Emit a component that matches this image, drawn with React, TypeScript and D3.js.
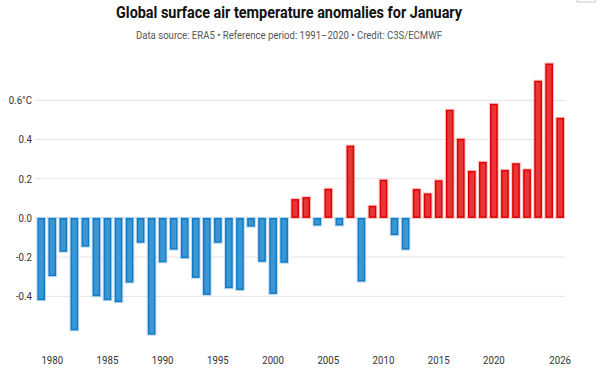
import React from "react";
import * as d3 from "d3";

const years: number[] = [
  1979, 1980, 1981, 1982, 1983, 1984, 1985, 1986, 1987, 1988, 1989, 1990,
  1991, 1992, 1993, 1994, 1995, 1996, 1997, 1998, 1999, 2000, 2001, 2002,
  2003, 2004, 2005, 2006, 2007, 2008, 2009, 2010, 2011, 2012, 2013, 2014,
  2015, 2016, 2017, 2018, 2019, 2020, 2021, 2022, 2023, 2024, 2025, 2026,
];
const anomalies: number[] = [
  -0.42, -0.297, -0.173, -0.574, -0.147, -0.40, -0.42, -0.43, -0.33, -0.127, -0.596, -0.227,
  -0.162, -0.206, -0.306, -0.393, -0.127, -0.359, -0.368, -0.045, -0.224, -0.388, -0.229, 0.096,
  0.106, -0.039, 0.149, -0.039, 0.369, -0.325, 0.062, 0.195, -0.088, -0.162, 0.147, 0.125,
  0.192, 0.552, 0.404, 0.24, 0.286, 0.582, 0.245, 0.279, 0.248, 0.70, 0.788, 0.511,
];
const yTicks: number[] = [-0.4, -0.2, 0.0, 0.2, 0.4, 0.6];
const xTickYears: number[] = [1980, 1985, 1990, 1995, 2000, 2005, 2010, 2015, 2020, 2026];

const title = "Global surface air temperature anomalies for January";
const subtitle = "Data source: ERA5 • Reference period: 1991–2020 • Credit: C3S/ECMWF";

export default function App() {
  const W = 600;
  const H = 376;
  const plotLeft = 35;
  const plotRight = 565;

  const x = d3
    .scaleBand<number>()
    .domain(years)
    .range([35.7, 565.7])
    .paddingInner(0.3)
    .paddingOuter(0.15);

  const y = d3.scaleLinear().domain([-0.6, 0.8]).range([335.5, 61.1]);

  const font = "Roboto, 'Liberation Sans', sans-serif";

  return (
    <svg
      width={W}
      height={H}
      style={{ position: "absolute", left: 0, top: 0, background: "#fff" }}
    >
      <rect x={0} y={0} width={W} height={H} fill="#fff" />
      <rect x={577} y={-3} width={18} height={5} fill="#fff" stroke="#c8c8c8" strokeWidth={1} />
      <text
        x={289}
        y={18}
        textAnchor="middle"
        fontFamily={font}
        fontWeight={700}
        fontSize={16}
        fill="#111"
        textLength={346}
        lengthAdjust="spacingAndGlyphs"
      >
        {title}
      </text>
      <text
        x={289}
        y={38.5}
        textAnchor="middle"
        fontFamily={font}
        fontSize={11}
        fill="#555"
        textLength={306}
        lengthAdjust="spacingAndGlyphs"
      >
        {subtitle}
      </text>

      {yTicks.map((t) => (
        <g key={t}>
          <line
            x1={plotLeft}
            x2={plotRight}
            y1={y(t)}
            y2={y(t)}
            stroke="#e3e3e3"
            strokeWidth={1}
          />
          <text
            x={32}
            y={y(t) + 4}
            textAnchor="end"
            fontFamily={font}
            fontSize={11}
            fill="#333"
            transform={`translate(32,0) scale(0.88,1) translate(-32,0)`}
          >
            {t === 0.6 ? "0.6°C" : t.toFixed(1)}
          </text>
        </g>
      ))}

      {years.map((yr, i) => {
        const v = anomalies[i];
        const pos = v >= 0;
        const y0 = y(0);
        const y1 = y(v);
        const top = Math.min(y0, y1);
        const h = Math.abs(y1 - y0);
        const bw = x.bandwidth();
        return (
          <g key={yr}>
            <rect
              x={(x(yr) as number) - 0.5}
              y={top - 0.5}
              width={bw + 1}
              height={h + 1}
              fill="none"
              stroke={pos ? "#f7c4c4" : "#c4dcef"}
              strokeWidth={1}
            />
            <rect
              x={(x(yr) as number) + 0.75}
              y={top + 0.75}
              width={bw - 1.5}
              height={Math.max(0, h - 1.5)}
              fill={pos ? "#e83537" : "#3a97d4"}
              stroke={pos ? "#e00000" : "#127bc6"}
              strokeWidth={1.5}
            />
          </g>
        );
      })}

      {xTickYears.map((yr) => (
        <text
          key={yr}
          x={(x(yr) as number) + x.bandwidth() / 2}
          y={364}
          textAnchor="middle"
          fontFamily={font}
          fontSize={11}
          fill="#333"
          transform={`translate(${(x(yr) as number) + x.bandwidth() / 2},0) scale(0.88,1) translate(${-((x(yr) as number) + x.bandwidth() / 2)},0)`}
        >
          {yr}
        </text>
      ))}
    </svg>
  );
}
